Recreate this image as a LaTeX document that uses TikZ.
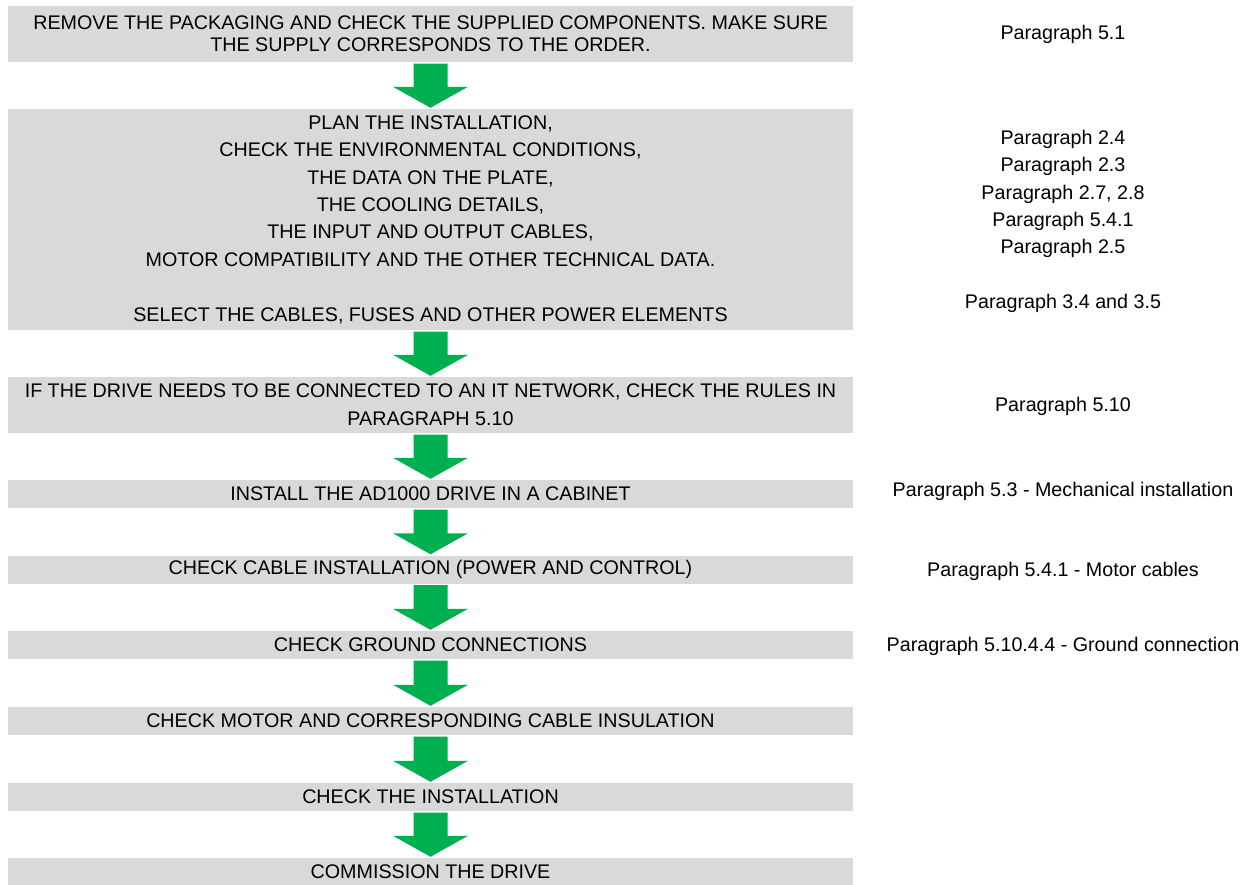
\documentclass[tikz,border=0pt]{standalone}
\usepackage{fontspec}
\setmainfont{Liberation Sans}
\usetikzlibrary{calc}
\definecolor{boxgray}{HTML}{D9D9D9}
\definecolor{arrowgreen}{HTML}{00B050}
\newcommand\flowarrow[2]{%
  \path[fill=arrowgreen] let \p1=(#1.south), \p2=(#2.north) in
    (\x1-17pt,\y1-1.5pt) -- (\x1+17pt,\y1-1.5pt) -- (\x1+17pt,\y2+22pt) --
    (\x1+37.5pt,\y2+22pt) -- (\x1,\y2+1pt) -- (\x1-37.5pt,\y2+22pt) --
    (\x1-17pt,\y2+22pt) -- cycle;}
\begin{document}
\begin{tikzpicture}[x=1pt,y=-1pt,
  stepbox/.style={fill=boxgray, minimum width=845pt, inner sep=0pt, align=center,
    font=\fontsize{19.7}{27.4}\selectfont},
  reftext/.style={align=center, inner sep=0pt, font=\fontsize{19.7}{27.4}\selectfont}]
\useasboundingbox (0,0) rectangle (1247,884);
% steps
\node[stepbox, minimum height=56pt, font=\fontsize{19.7}{21.7}\selectfont] (b1) at (430.5,34)
  {REMOVE THE PACKAGING AND CHECK THE SUPPLIED COMPONENTS. MAKE SURE\\THE SUPPLY CORRESPONDS TO THE ORDER.};
\node[stepbox, minimum height=221pt] (b2) at (430.5,219.5)
  {PLAN THE INSTALLATION,\\CHECK THE ENVIRONMENTAL CONDITIONS,\\THE DATA ON THE PLATE,\\THE COOLING DETAILS,\\THE INPUT AND OUTPUT CABLES,\\MOTOR COMPATIBILITY AND THE OTHER TECHNICAL DATA.\\[27.4pt]SELECT THE CABLES, FUSES AND OTHER POWER ELEMENTS};
\node[stepbox, minimum height=56pt, font=\fontsize{19.7}{28}\selectfont] (b3) at (430.5,405)
  {IF THE DRIVE NEEDS TO BE CONNECTED TO AN IT NETWORK, CHECK THE RULES IN\\PARAGRAPH 5.10};
\node[stepbox, minimum height=28pt] (b4) at (430.5,494) {INSTALL THE AD1000 DRIVE IN A CABINET};
\node[stepbox, minimum height=28pt] (b5) at (430.5,569.5) {CHECK CABLE INSTALLATION (POWER AND CONTROL)};
\node[stepbox, minimum height=28pt] (b6) at (430.5,645) {CHECK GROUND CONNECTIONS};
\node[stepbox, minimum height=28pt] (b7) at (430.5,721) {CHECK MOTOR AND CORRESPONDING CABLE INSULATION};
\node[stepbox, minimum height=28pt] (b8) at (430.5,797) {CHECK THE INSTALLATION};
\node[stepbox, minimum height=28pt] (b9) at (430.5,872) {COMMISSION THE DRIVE};
% arrows
\flowarrow{b1}{b2}
\flowarrow{b2}{b3}
\flowarrow{b3}{b4}
\flowarrow{b4}{b5}
\flowarrow{b5}{b6}
\flowarrow{b6}{b7}
\flowarrow{b7}{b8}
\flowarrow{b8}{b9}
% references
\node[reftext] (r1) at (1063,34) {Paragraph 5.1};
\node[reftext] (r2) at (1063,221.4) {Paragraph 2.4\\Paragraph 2.3\\Paragraph 2.7, 2.8\\Paragraph 5.4.1\\Paragraph 2.5\\[27.4pt]Paragraph 3.4 and 3.5};
\node[reftext] (r3) at (1063,406) {Paragraph 5.10};
\node[reftext] (r4) at (1063,491) {Paragraph 5.3 - Mechanical installation};
\node[reftext] (r5) at (1063,571) {Paragraph 5.4.1 - Motor cables};
\node[reftext] (r6) at (1063,646) {Paragraph 5.10.4.4 - Ground connection};
\end{tikzpicture}
\end{document}
